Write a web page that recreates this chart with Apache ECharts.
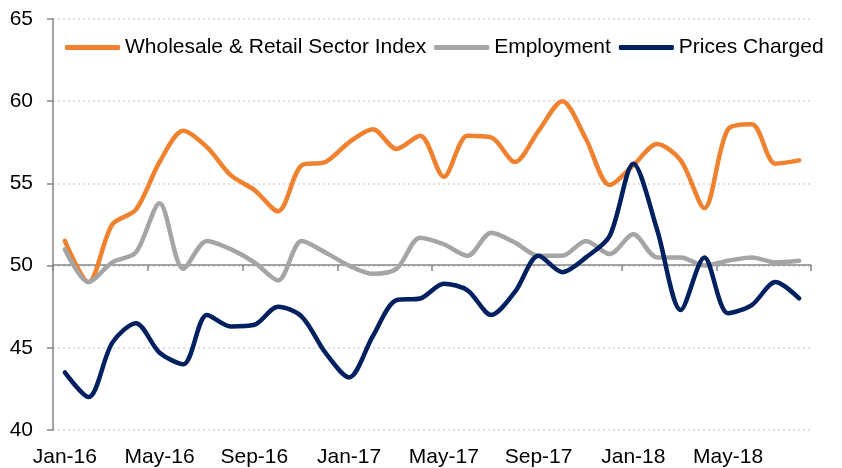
<!DOCTYPE html>
<html>
<head>
<meta charset="utf-8">
<script src="https://cdn.jsdelivr.net/npm/echarts@6/dist/echarts.min.js"></script>
<style>
  html, body { margin: 0; padding: 0; background: #fff; }
  #main { width: 842px; height: 468px; }
</style>
</head>
<body>
<div id="main"></div>
<script>
var months = ['Jan-16','Feb-16','Mar-16','Apr-16','May-16','Jun-16','Jul-16','Aug-16','Sep-16','Oct-16','Nov-16','Dec-16',
  'Jan-17','Feb-17','Mar-17','Apr-17','May-17','Jun-17','Jul-17','Aug-17','Sep-17','Oct-17','Nov-17','Dec-17',
  'Jan-18','Feb-18','Mar-18','Apr-18','May-18','Jun-18','Jul-18','Aug-18'];

var wholesaleIndex = [51.5, 49.0, 52.5, 53.4, 56.3, 58.2, 57.2, 55.5, 54.6, 53.3, 56.1, 56.3,
  57.5, 58.3, 57.1, 57.9, 55.4, 57.9, 57.8, 56.3, 58.2, 60.0, 57.7, 54.9,
  56.1, 57.4, 56.4, 53.5, 58.3, 58.6, 56.2, 56.4];

var employment = [51.0, 49.0, 50.2, 50.8, 53.8, 49.8, 51.5, 51.0, 50.2, 49.1, 51.5, 50.8,
  50.0, 49.5, 49.8, 51.7, 51.3, 50.6, 52.0, 51.4, 50.6, 50.6, 51.5, 50.7,
  51.9, 50.5, 50.5, 50.0, 50.3, 50.5, 50.2, 50.3];

var pricesCharged = [43.5, 42.0, 45.3, 46.5, 44.7, 44.0, 47.0, 46.3, 46.4, 47.5, 46.9, 44.7,
  43.2, 45.7, 47.9, 48.0, 48.9, 48.5, 47.0, 48.4, 50.6, 49.6, 50.5, 51.8,
  56.2, 52.2, 47.3, 50.5, 47.1, 47.6, 49.0, 48.0];

var yTicks = [40, 45, 50, 55, 60, 65];

var chart = echarts.init(document.getElementById('main'));
var font = 'Arial, "Liberation Sans", sans-serif';
var axisGray = '#868686';

chart.setOption({
  animation: false,
  textStyle: { fontFamily: font },
  grid: { left: 53, right: 31, top: 19, bottom: 37, containLabel: false },
  legend: {
    left: 65,
    top: 37,
    padding: 0,
    itemWidth: 55,
    itemHeight: 5,
    itemGap: 8,
    icon: 'roundRect',
    textStyle: { fontSize: 21, color: '#000', fontFamily: font },
    data: ['Wholesale & Retail Sector Index', 'Employment', 'Prices Charged']
  },
  xAxis: [
    {
      type: 'category',
      data: months,
      position: 'bottom',
      axisLine: { show: false },
      axisTick: { show: false },
      axisLabel: { interval: 3, margin: 17, fontSize: 21, color: '#000', fontFamily: font }
    },
    {
      // axis line drawn across the 50 level
      type: 'category',
      data: months,
      position: 'bottom',
      offset: -165,
      axisLine: { show: true, lineStyle: { color: axisGray, width: 1.5 } },
      axisTick: { show: true, interval: 3, length: 6, lineStyle: { color: axisGray, width: 1.5 } },
      axisLabel: { show: false }
    }
  ],
  yAxis: {
    type: 'value',
    min: yTicks[0],
    max: yTicks[yTicks.length - 1],
    interval: 5,
    axisLine: { show: true, lineStyle: { color: axisGray, width: 1.5 } },
    axisTick: { show: true, length: 6, lineStyle: { color: axisGray, width: 1.5 } },
    axisLabel: { margin: 20, fontSize: 21, color: '#000', fontFamily: font },
    splitLine: { show: true, lineStyle: { color: '#d4d4d4', type: [2, 3], width: 1.5 } }
  },
  series: [
    {
      name: 'Wholesale & Retail Sector Index',
      type: 'line',
      data: wholesaleIndex,
      smooth: 0.3,
      symbol: 'none',
      color: '#F0812F',
      lineStyle: { width: 4.5, color: '#F0812F', cap: 'round', join: 'round' }
    },
    {
      name: 'Employment',
      type: 'line',
      data: employment,
      smooth: 0.3,
      symbol: 'none',
      color: '#A5A5A5',
      lineStyle: { width: 4.5, color: '#A5A5A5', cap: 'round', join: 'round' }
    },
    {
      name: 'Prices Charged',
      type: 'line',
      data: pricesCharged,
      smooth: 0.3,
      symbol: 'none',
      color: '#002060',
      lineStyle: { width: 4.5, color: '#002060', cap: 'round', join: 'round' }
    }
  ]
});
</script>
</body>
</html>
